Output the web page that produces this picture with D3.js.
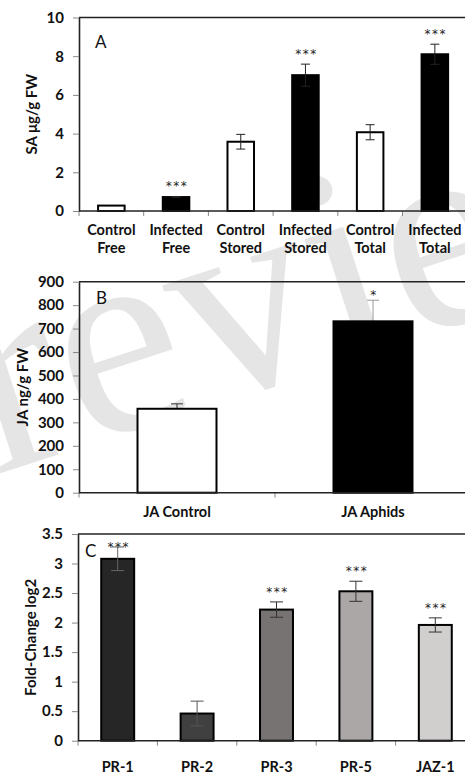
<!DOCTYPE html>
<html lang="en">
<head>
<meta charset="UTF-8">
<style>
body { margin: 0; background: #fff; }
text { font-family: Lato, "Open Sans", sans-serif; }
.tick text { font-size: 15px; font-weight: 700; fill: #111; }
.cat { font-size: 14.5px; font-weight: 700; fill: #111; }
.ytitle { font-size: 15px; font-weight: 700; fill: #111; }
.letter { font-size: 17px; fill: #111; }
.sig { font-family: "DejaVu Sans", sans-serif; font-size: 12px; fill: #222; letter-spacing: 1.5px; }
</style>
</head>
<body>
<script src="https://cdn.jsdelivr.net/npm/d3@7"></script>
<script>
// A: salicylic acid, ug/g FW
var saCats = ["Control Free", "Infected Free", "Control Stored", "Infected Stored", "Control Total", "Infected Total"];
var saVals = [0.28, 0.72, 3.58, 7.02, 4.07, 8.1];
var saErr  = [0, 0.03, 0.38, 0.57, 0.39, 0.52];
var saSig  = ["", "***", "", "***", "", "***"];
var saTicks = [0, 2, 4, 6, 8, 10];

// B: jasmonic acid, ng/g FW
var jaCats = ["JA Control", "JA Aphids"];
var jaVals = [358, 731];
var jaErr  = [21, 90];
var jaSig  = ["", "*"];
var jaTicks = [0, 100, 200, 300, 400, 500, 600, 700, 800, 900];

// C: gene expression, fold-change log2
var geneCats = ["PR-1", "PR-2", "PR-3", "PR-5", "JAZ-1"];
var geneVals = [3.08, 0.46, 2.22, 2.53, 1.96];
var geneErr  = [0.2, 0.21, 0.13, 0.17, 0.12];
var geneSig  = ["***", "", "***", "***", "***"];
var geneTicks = [0, 0.5, 1, 1.5, 2, 2.5, 3, 3.5];

var width = 465, height = 777;

var svg = d3.select("body").append("svg")
    .attr("width", width)
    .attr("height", height);

// faint watermark behind everything
svg.append("text")
    .attr("transform", "translate(-5,475) rotate(-18)")
    .style("font-family", "'Liberation Serif', serif")
    .style("font-size", "280px")
    .attr("fill", "#e5e5e5")
    .text("review");

function panel(o) {
  var g = svg.append("g");
  var n = o.cats.length;
  var x = d3.scaleBand()
      .domain(o.cats)
      .range([o.left, o.left + o.step * n])
      .paddingInner(o.pad)
      .paddingOuter(o.pad / 2);
  var y = d3.scaleLinear()
      .domain([0, o.max])
      .range([o.bottom, o.top]);

  // top frame line
  g.append("line")
      .attr("x1", o.left).attr("x2", width + 5)
      .attr("y1", o.top).attr("y2", o.top)
      .attr("stroke", "#222").attr("stroke-width", 1.6);

  // category boundary ticks
  g.selectAll(".bt").data(d3.range(n + 1)).enter().append("line")
      .attr("x1", function(i) { return o.left + i * x.step(); })
      .attr("x2", function(i) { return o.left + i * x.step(); })
      .attr("y1", o.bottom).attr("y2", o.bottom + 5)
      .attr("stroke", "#888");

  var yAxis = g.append("g")
      .attr("transform", "translate(" + o.left + ",0)")
      .call(d3.axisLeft(y).tickValues(o.ticks).tickFormat(function(d) { return d; })
        .tickSizeOuter(0).tickSizeInner(6).tickPadding(9));
  yAxis.select(".domain").attr("stroke", "#222").attr("stroke-width", 1.6);
  yAxis.selectAll(".tick line").attr("stroke", "#888");

  function errorBars() {
    o.vals.forEach(function(v, i) {
      var e = o.errs[i];
      if (!e) return;
      var cx = x(o.cats[i]) + x.bandwidth() / 2;
      var col = o.errColors[i];
      g.append("line")
          .attr("x1", cx).attr("x2", cx)
          .attr("y1", y(v + e)).attr("y2", y(v - e))
          .attr("stroke", col);
      [v + e, v - e].forEach(function(t) {
        g.append("line")
            .attr("x1", cx - o.cap).attr("x2", cx + o.cap)
            .attr("y1", y(t)).attr("y2", y(t))
            .attr("stroke", col);
      });
    });
  }

  if (o.errBehind) errorBars();

  // bars
  g.selectAll(".bar").data(o.vals).enter().append("rect")
      .attr("x", function(d, i) { return x(o.cats[i]); })
      .attr("width", x.bandwidth())
      .attr("y", function(d) { return y(d); })
      .attr("height", function(d) { return o.bottom - y(d); })
      .attr("fill", function(d, i) { return o.fills[i]; })
      .attr("stroke", "#000")
      .attr("stroke-width", 2);

  if (!o.errBehind) errorBars();

  // x axis line over bar bottoms
  g.append("line")
      .attr("x1", o.left).attr("x2", width + 5)
      .attr("y1", o.bottom).attr("y2", o.bottom)
      .attr("stroke", "#222").attr("stroke-width", 1.6);

  // significance stars
  g.selectAll(".sig").data(o.sig).enter().append("text")
      .attr("class", "sig")
      .attr("x", function(d, i) { return x(o.cats[i]) + x.bandwidth() / 2 + 1; })
      .attr("y", function(d, i) {
        var t = y(o.vals[i] + o.errs[i]) - o.sigGap;
        return Math.max(t, o.top + 9) + 8;
      })
      .attr("text-anchor", "middle")
      .text(function(d) { return d; });

  // category labels
  o.cats.forEach(function(c, i) {
    var cx = x(c) + x.bandwidth() / 2;
    var lines = o.split ? c.split(" ") : [c];
    var t = g.append("text")
        .attr("class", "cat")
        .attr("text-anchor", "middle")
        .attr("y", o.labelY);
    lines.forEach(function(l, k) {
      t.append("tspan").attr("x", cx).attr("dy", k ? 18 : 0).text(l);
    });
  });

  // y title
  g.append("text")
      .attr("class", "ytitle")
      .attr("transform", "translate(" + o.titleX + "," + ((o.top + o.bottom) / 2) + ") rotate(-90)")
      .attr("text-anchor", "middle")
      .text(o.title);

  g.append("text")
      .attr("class", "letter")
      .attr("x", o.letterX).attr("y", o.letterY)
      .text(o.letter);
}

panel({
  cats: saCats, vals: saVals, errs: saErr, sig: saSig, ticks: saTicks, max: 10,
  left: 79, top: 17.5, bottom: 211, step: 64.7, pad: 0.59,
  fills: ["#fff", "#000", "#fff", "#000", "#fff", "#000"],
  errColors: ["#222", "#222", "#222", "#222", "#222", "#222"],
  cap: 4.5, sigGap: 14, split: true, labelY: 235, errBehind: false,
  title: "SA \u03bcg/g FW", titleX: 37, letter: "A", letterX: 95, letterY: 48
});

panel({
  cats: jaCats, vals: jaVals, errs: jaErr, sig: jaSig, ticks: jaTicks, max: 900,
  left: 79, top: 281.7, bottom: 492.7, step: 196, pad: 0.597,
  fills: ["#fff", "#000"],
  errColors: ["#333", "#999"],
  cap: 6, sigGap: 12, split: false, labelY: 517, errBehind: true,
  title: "JA ng/g FW", titleX: 28, letter: "B", letterX: 96, letterY: 304
});

panel({
  cats: geneCats, vals: geneVals, errs: geneErr, sig: geneSig, ticks: geneTicks, max: 3.5,
  left: 78, top: 534, bottom: 740.7, step: 79.4, pad: 0.585,
  fills: ["#262626", "#404040", "#787373", "#aba7a7", "#d1cece"],
  errColors: ["#666", "#555", "#333", "#333", "#333"],
  cap: 6.5, sigGap: 14, split: false, labelY: 772, errBehind: false,
  title: "Fold-Change log2", titleX: 36, letter: "C", letterX: 85, letterY: 557
});
</script>
</body>
</html>
